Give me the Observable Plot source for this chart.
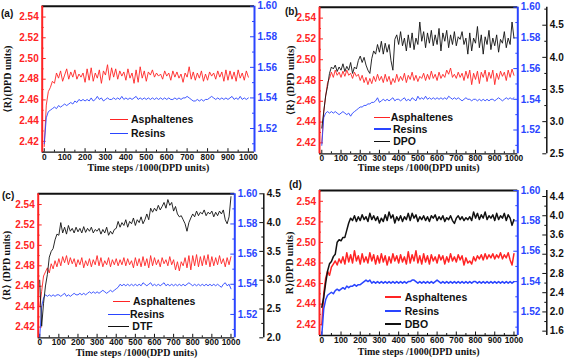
<!DOCTYPE html>
<html><head><meta charset="utf-8">
<script src="https://cdn.jsdelivr.net/npm/d3@7"></script>
<script src="https://cdn.jsdelivr.net/npm/@observablehq/plot@0.6"></script>
<style>
html,body{margin:0;padding:0;background:#fff;}
#page{position:relative;width:567px;height:363px;overflow:hidden;font-family:"Liberation Sans",Arial,sans-serif;}
#page svg{position:absolute;left:0;top:0;}
.lg{position:absolute;height:12px;font:bold 10.5px "Liberation Sans",Arial,sans-serif;display:flex;align-items:center;white-space:nowrap;line-height:1;color:#111;}
.lg span.sw{display:block;flex:none;}
.pl{position:absolute;font:bold 10px "Liberation Sans",Arial,sans-serif;color:#111;}
</style></head><body><div id="page"></div>
<script>
// time steps /1000
const steps = d3.range(0, 1001, 10);

// Panel (a)
const aAsph = [2.415,2.455,2.468,2.472,2.478,2.476,2.486,2.481,2.488,2.478,
2.484,2.490,2.480,2.487,2.482,2.489,2.480,2.485,2.482,2.486,
2.477,2.490,2.479,2.491,2.478,2.486,2.481,2.489,2.476,2.488,
2.484,2.494,2.479,2.491,2.482,2.490,2.480,2.488,2.483,2.487,
2.479,2.490,2.481,2.486,2.476,2.489,2.477,2.492,2.481,2.488,
2.478,2.487,2.484,2.489,2.482,2.486,2.483,2.485,2.480,2.488,
2.483,2.486,2.479,2.488,2.482,2.487,2.481,2.485,2.477,2.486,
2.482,2.492,2.480,2.487,2.479,2.486,2.481,2.488,2.478,2.485,
2.479,2.487,2.483,2.486,2.480,2.488,2.482,2.487,2.478,2.489,
2.479,2.488,2.480,2.487,2.478,2.489,2.481,2.486,2.479,2.488,
2.482];
const aRes = [1.510,1.527,1.531,1.532,1.533,1.534,1.533,1.535,1.534,1.535,
1.536,1.535,1.536,1.537,1.536,1.538,1.537,1.539,1.538,1.539,
1.538,1.539,1.538,1.540,1.538,1.539,1.541,1.539,1.540,1.538,
1.539,1.540,1.539,1.539,1.540,1.539,1.540,1.539,1.541,1.539,
1.540,1.539,1.540,1.539,1.540,1.541,1.539,1.540,1.539,1.540,
1.539,1.540,1.539,1.540,1.539,1.540,1.539,1.540,1.539,1.540,
1.539,1.540,1.539,1.539,1.540,1.539,1.540,1.539,1.540,1.540,
1.541,1.540,1.539,1.538,1.538,1.539,1.538,1.539,1.538,1.539,
1.539,1.540,1.541,1.540,1.539,1.540,1.539,1.540,1.539,1.540,
1.539,1.540,1.541,1.539,1.540,1.539,1.541,1.539,1.540,1.539,
1.540];

// Panel (b)
const bAsph = [2.420,2.450,2.465,2.478,2.482,2.488,2.483,2.490,2.485,2.488,
2.483,2.489,2.484,2.490,2.485,2.487,2.482,2.488,2.484,2.486,
2.480,2.485,2.478,2.483,2.476,2.482,2.477,2.484,2.479,2.486,
2.480,2.484,2.478,2.486,2.479,2.484,2.476,2.482,2.478,2.486,
2.479,2.484,2.480,2.487,2.478,2.485,2.481,2.488,2.480,2.485,
2.479,2.484,2.482,2.487,2.480,2.486,2.481,2.489,2.482,2.486,
2.480,2.488,2.482,2.486,2.483,2.490,2.486,2.492,2.483,2.486,
2.482,2.488,2.483,2.487,2.480,2.489,2.482,2.490,2.476,2.487,
2.481,2.489,2.477,2.488,2.483,2.490,2.479,2.488,2.482,2.490,
2.476,2.487,2.481,2.489,2.484,2.488,2.480,2.490,2.483,2.491,
2.485];
const bRes = [1.510,1.528,1.531,1.532,1.531,1.532,1.531,1.532,1.531,1.530,
1.531,1.532,1.531,1.530,1.531,1.529,1.531,1.532,1.533,1.534,
1.535,1.535,1.536,1.536,1.537,1.537,1.538,1.538,1.539,1.541,
1.538,1.539,1.540,1.539,1.540,1.539,1.540,1.541,1.539,1.540,
1.540,1.539,1.540,1.541,1.539,1.540,1.539,1.541,1.540,1.539,
1.542,1.540,1.541,1.540,1.542,1.540,1.541,1.540,1.541,1.540,
1.541,1.540,1.541,1.540,1.541,1.540,1.542,1.541,1.540,1.541,
1.540,1.541,1.540,1.539,1.540,1.541,1.540,1.540,1.539,1.540,
1.540,1.539,1.540,1.539,1.540,1.539,1.540,1.539,1.540,1.540,
1.539,1.540,1.541,1.540,1.539,1.540,1.541,1.540,1.541,1.540,
1.541];
const bDPO = [2.90,3.15,3.40,3.55,3.75,3.85,3.82,3.88,3.78,3.85,
3.80,3.90,3.78,3.86,3.80,3.92,3.75,3.85,3.82,3.95,
4.02,3.92,4.00,3.88,3.80,3.75,3.98,4.10,4.05,4.20,
4.08,4.25,4.05,4.22,4.08,4.20,3.95,3.80,4.28,4.35,
4.20,4.40,4.18,4.30,4.10,4.35,4.15,4.38,4.12,4.30,
4.20,4.55,4.25,4.40,4.15,4.38,4.22,4.42,4.18,4.35,
4.20,4.45,4.10,4.38,4.25,4.42,4.15,4.35,4.20,4.40,
4.18,4.32,4.28,4.40,4.20,4.30,4.05,4.38,4.10,4.30,
4.22,4.48,4.15,4.35,4.05,4.32,4.20,4.42,4.12,4.30,
4.18,4.35,4.08,4.28,4.22,4.40,4.15,4.30,4.20,4.55,
4.30];

// Panel (c)
const cAsph = [2.440,2.455,2.470,2.474,2.478,2.473,2.482,2.477,2.485,2.479,
2.487,2.480,2.489,2.483,2.490,2.481,2.488,2.482,2.487,2.479,
2.486,2.481,2.488,2.478,2.485,2.480,2.487,2.479,2.486,2.481,
2.490,2.480,2.488,2.479,2.485,2.481,2.488,2.479,2.486,2.481,
2.487,2.480,2.486,2.481,2.488,2.480,2.487,2.481,2.485,2.478,
2.488,2.480,2.487,2.479,2.489,2.480,2.487,2.478,2.490,2.480,
2.488,2.481,2.486,2.479,2.488,2.482,2.486,2.480,2.489,2.481,
2.486,2.476,2.484,2.475,2.484,2.480,2.488,2.478,2.490,2.476,
2.490,2.480,2.491,2.479,2.489,2.480,2.490,2.481,2.491,2.479,
2.489,2.480,2.488,2.481,2.490,2.482,2.487,2.479,2.488,2.481,
2.489];
const cRes = [1.505,1.525,1.531,1.533,1.532,1.533,1.532,1.533,1.532,1.533,
1.533,1.532,1.533,1.534,1.532,1.533,1.532,1.533,1.534,1.533,
1.533,1.534,1.533,1.534,1.533,1.534,1.535,1.534,1.535,1.534,
1.535,1.534,1.535,1.536,1.535,1.534,1.535,1.536,1.535,1.536,
1.537,1.538,1.540,1.539,1.540,1.539,1.540,1.539,1.540,1.539,
1.540,1.539,1.540,1.539,1.541,1.540,1.539,1.540,1.541,1.539,
1.540,1.539,1.540,1.539,1.540,1.541,1.539,1.540,1.539,1.540,
1.539,1.540,1.539,1.540,1.539,1.540,1.539,1.540,1.541,1.540,
1.539,1.540,1.539,1.540,1.539,1.540,1.539,1.540,1.539,1.540,
1.539,1.540,1.539,1.540,1.539,1.538,1.540,1.541,1.539,1.540,
1.537];
const cDTF = [3.00,2.20,2.60,2.90,3.10,3.40,3.50,3.55,3.70,3.80,
3.78,4.00,3.82,3.92,3.80,3.95,3.85,3.90,3.82,3.92,
3.84,3.90,3.82,3.93,3.83,3.90,3.85,3.92,3.82,3.88,
3.85,3.90,3.80,3.88,3.82,3.92,3.78,3.85,3.80,3.88,
3.90,4.02,3.92,4.00,3.95,4.05,3.92,4.02,3.98,4.08,
3.95,4.05,4.00,4.10,3.98,4.05,4.15,4.05,4.25,4.18,
4.25,4.20,4.30,4.22,4.28,4.35,4.25,4.40,4.30,4.35,
4.20,4.28,4.15,4.10,4.12,4.05,3.98,3.85,4.00,4.08,
4.15,4.10,4.20,4.12,4.18,4.15,4.22,4.12,4.18,4.15,
4.20,4.10,4.18,4.12,4.20,4.15,4.22,4.05,3.98,4.10,
4.45];

// Panel (d)
const dAsph = [2.420,2.450,2.465,2.472,2.468,2.476,2.479,2.482,2.478,2.484,
2.480,2.486,2.479,2.490,2.481,2.488,2.480,2.492,2.482,2.487,
2.479,2.489,2.481,2.486,2.480,2.490,2.482,2.488,2.479,2.487,
2.480,2.489,2.481,2.487,2.478,2.486,2.480,2.489,2.482,2.487,
2.480,2.488,2.481,2.486,2.479,2.491,2.480,2.488,2.482,2.492,
2.480,2.487,2.479,2.489,2.481,2.487,2.479,2.488,2.482,2.486,
2.480,2.488,2.483,2.487,2.479,2.486,2.481,2.489,2.482,2.486,
2.481,2.488,2.483,2.487,2.478,2.485,2.480,2.482,2.479,2.486,
2.482,2.487,2.484,2.488,2.483,2.489,2.484,2.488,2.485,2.489,
2.484,2.488,2.485,2.490,2.484,2.488,2.485,2.490,2.483,2.478,
2.489];
const dRes = [1.505,1.522,1.528,1.531,1.532,1.533,1.532,1.534,1.535,1.534,
1.535,1.536,1.535,1.537,1.536,1.537,1.537,1.538,1.537,1.538,
1.538,1.539,1.540,1.541,1.540,1.541,1.539,1.540,1.539,1.540,
1.539,1.540,1.539,1.540,1.539,1.540,1.539,1.540,1.539,1.540,
1.539,1.540,1.539,1.540,1.539,1.540,1.540,1.541,1.541,1.540,
1.539,1.540,1.539,1.540,1.539,1.540,1.539,1.540,1.539,1.540,
1.541,1.540,1.539,1.540,1.539,1.540,1.539,1.540,1.539,1.540,
1.539,1.540,1.539,1.540,1.539,1.540,1.539,1.540,1.539,1.540,
1.540,1.539,1.540,1.539,1.540,1.539,1.540,1.539,1.540,1.539,
1.540,1.539,1.540,1.539,1.540,1.539,1.540,1.539,1.540,1.539,
1.540];
const dDBO = [2.10,2.30,2.60,2.85,3.00,3.05,3.15,3.20,3.45,3.50,
3.48,3.55,3.55,3.70,3.85,3.95,3.90,4.00,3.88,3.98,
3.90,4.02,3.92,3.98,3.88,4.05,3.92,4.00,3.90,3.98,
3.85,3.95,3.88,4.02,3.90,4.08,3.95,4.02,3.85,3.98,
3.90,4.00,3.88,3.98,3.92,4.05,3.90,4.05,3.95,4.02,
3.88,3.98,3.92,4.00,3.90,3.98,3.88,4.00,3.95,4.02,
3.90,3.98,3.92,4.00,3.88,3.96,3.92,4.00,3.90,3.84,
3.95,4.00,3.92,3.98,3.90,3.96,3.92,3.98,3.90,4.08,
3.95,4.05,3.92,4.02,3.95,4.08,3.92,4.00,3.95,4.02,
3.90,4.05,3.92,4.00,3.95,4.05,3.90,4.02,3.95,3.80,
3.92];

// Ticks
const xTicks = [0,100,200,300,400,500,600,700,800,900,1000];
const xMinor = [50,150,250,350,450,550,650,750,850,950];
const redTicks = [2.42,2.44,2.46,2.48,2.50,2.52,2.54];
const redMinor = [2.41,2.43,2.45,2.47,2.49,2.51,2.53,2.55];
const blueTicks = [1.52,1.54,1.56,1.58,1.60];
const blueMinor = [1.51,1.53,1.55,1.57,1.59];
const bBlackTicks = [2.5,3.0,3.5,4.0,4.5];
const bBlackMinor = [2.75,3.25,3.75,4.25,4.75];
const cBlackTicks = [2.0,2.5,3.0,3.5,4.0,4.5];
const cBlackMinor = [2.25,2.75,3.25,3.75,4.25];
const dBlackTicks = [1.6,2.0,2.4,2.8,3.2,3.6,4.0,4.4];
const dBlackMinor = [1.8,2.2,2.6,3.0,3.4,3.8,4.2];

const xLabel = "Time steps /1000(DPD units)";
const RED = "#ff2424", BLUE = "#2a45ff", BLACK = "#111111";
const SANS = "Liberation Sans, Arial, sans-serif";
const SERIF = "Liberation Serif, DejaVu Serif, Times New Roman, serif";
const W = 567, H = 363;
const redDom = [2.4095, 2.5505];
const blueDom = [1.5045, 1.600];

const panels = [
  {frame:[41.7,254,5.7,151.7], xDom:[-10,1030], red:aAsph, blue:aRes, black:null,
   sw:0.9, ylab:"⟨R⟩(DPD units)", ylabDx:-34.5, xlabDy:18.5,
   letter:["(a)",1,7.5],
   legend:[{x:110,y:119.3,w:18,g:3,c:RED,t:"Asphaltenes"},{x:110,y:133.3,w:18,g:3,c:BLUE,t:"Resins"}]},
  {frame:[319,517.3,6.7,153.3], xDom:[-12,1020], red:bAsph, blue:bRes, black:bDPO,
   blackDom:[2.5,4.78], blackTicks:bBlackTicks, blackMinor:bBlackMinor, bfmt:".1f",
   sw:0.9, ylab:"⟨R⟩ (DPD units)", ylabDx:-29, xlabDy:17,
   letter:["(b)",285,5.5],
   legend:[{x:373.7,y:117.3,w:16.5,g:0.5,c:RED,t:"Asphaltenes"},{x:373.5,y:129,w:17,g:2.5,c:BLUE,t:"Resins"},{x:373.7,y:141.7,w:16.5,g:3,c:BLACK,t:"DPO"}]},
  {frame:[37.7,234.3,193.3,337.3], xDom:[-8,1020], red:cAsph, blue:cRes, black:cDTF,
   blackDom:[2.0,4.5], blackTicks:cBlackTicks, blackMinor:cBlackMinor, bfmt:".1f",
   sw:0.9, ylab:"⟨R⟩ (DPD units)", ylabDx:-31, xlabDy:18.5,
   letter:["(c)",2,189.5],
   legend:[{x:113,y:301.7,w:17,g:3,c:RED,t:"Asphaltenes"},{x:107.5,y:314.3,w:22,g:0.5,c:BLUE,t:"Resins"},{x:108.3,y:326.7,w:21,g:3,c:BLACK,t:"DTF"}]},
  {frame:[319,517.3,190,335], xDom:[-12,1020], red:dAsph, blue:dRes, black:dDBO,
   blackDom:[1.51,4.525], blackTicks:dBlackTicks, blackMinor:dBlackMinor, bfmt:".1f",
   sw:1.5, ylab:"R⟩(DPD units)", ylabDx:-29.5, xlabDy:19,
   letter:["(d)",289,178.5],
   legend:[{x:384.7,y:297.3,w:16.6,g:3.5,c:RED,t:"Asphaltenes"},{x:384.7,y:311,w:16.6,g:3.5,c:BLUE,t:"Resins"},{x:384.7,y:324,w:16.6,g:3.5,c:BLACK,t:"DBO"}]}
];

const page = document.getElementById("page");

function layer(p, yDom, marks) {
  const [L, R, T, B] = p.frame;
  return Plot.plot({
    width: W, height: H,
    marginLeft: L, marginRight: W - R, marginTop: T, marginBottom: H - B,
    x: {domain: p.xDom, axis: null},
    y: {domain: yDom, axis: null},
    style: {background: "transparent", overflow: "visible", fontFamily: SANS},
    marks
  });
}

for (const p of panels) {
  const [L, R, T, B] = p.frame;
  const fw = R - L, fh = B - T;
  // Red layer: left axis, x axis, frame lines
  const redLayer = layer(p, redDom, [
    Plot.line(p.red, {x: (d, i) => steps[i], y: d => d, stroke: RED, strokeWidth: p.sw}),
    Plot.tickY(redTicks, {y: d => d, stroke: RED, strokeWidth: 1, insetRight: fw - 4}),
    Plot.tickY(redMinor, {y: d => d, stroke: RED, strokeWidth: 1, insetRight: fw - 2}),
    Plot.tickX(xTicks, {x: d => d, stroke: BLACK, strokeWidth: 1, insetTop: fh - 3.5}),
    Plot.tickX(xMinor, {x: d => d, stroke: BLACK, strokeWidth: 1, insetTop: fh - 2}),
    Plot.ruleY([redDom[1]], {stroke: BLACK, strokeWidth: 2}),
    Plot.ruleY([redDom[0]], {stroke: BLACK, strokeWidth: 1.3}),
    Plot.ruleX([p.xDom[0]], {stroke: RED, strokeWidth: 2}),
    Plot.axisY({anchor: "left", ticks: redTicks, tickSize: 0, tickPadding: 3.5, tickFormat: ".2f",
      label: null, fill: RED, fontSize: 10, fontWeight: "bold", fontFamily: SANS}),
    Plot.axisX({anchor: "bottom", ticks: xTicks, tickSize: 0, tickPadding: 1.5, tickFormat: d => String(d),
      label: null, fill: BLACK, fontSize: 8.4, fontWeight: "bold", fontFamily: SANS}),
    Plot.text([xLabel], {text: d => d, frameAnchor: "bottom", textAnchor: "middle", dy: p.xlabDy, fill: BLACK,
      fontFamily: SERIF, fontWeight: "bold", fontSize: 10}),
    Plot.text([p.ylab], {text: d => d, frameAnchor: "left", textAnchor: "middle", rotate: -90, dx: p.ylabDx, fill: BLACK,
      fontFamily: SERIF, fontWeight: "bold", fontSize: 10})
  ]);
  page.appendChild(redLayer);

  // Blue layer: right axis
  const blueLayer = layer(p, blueDom, [
    Plot.line(p.blue, {x: (d, i) => steps[i], y: d => d, stroke: BLUE, strokeWidth: p.sw}),
    Plot.tickY(blueTicks, {y: d => d, stroke: BLUE, strokeWidth: 1, insetLeft: fw - 4}),
    Plot.tickY(blueMinor, {y: d => d, stroke: BLUE, strokeWidth: 1, insetLeft: fw - 2}),
    Plot.ruleX([p.xDom[1]], {stroke: BLUE, strokeWidth: 2}),
    Plot.axisY({anchor: "right", ticks: blueTicks, tickSize: 0, tickPadding: 3, tickFormat: ".2f",
      label: null, fill: BLUE, fontSize: 10, fontWeight: "bold", fontFamily: SANS})
  ]);
  page.appendChild(blueLayer);

  // Black layer: third axis
  if (p.black) {
    const blackLayer = layer(p, p.blackDom, [
      Plot.line(p.black, {x: (d, i) => steps[i], y: d => d, stroke: BLACK, strokeWidth: p.sw}),
      Plot.tickY(p.blackTicks, {y: d => d, stroke: BLACK, strokeWidth: 1, insetLeft: fw - 4, dx: 29}),
      Plot.tickY(p.blackMinor.filter(v => v <= p.blackDom[1]), {y: d => d, stroke: BLACK, strokeWidth: 1, insetLeft: fw - 2, dx: 29}),
      Plot.ruleX([p.xDom[1]], {stroke: BLACK, strokeWidth: 1.5, dx: 29}),
      Plot.axisY({anchor: "right", ticks: p.blackTicks, tickSize: 0, tickPadding: 3, dx: 29, tickFormat: p.bfmt,
        label: null, fill: BLACK, fontSize: 10, fontWeight: "bold", fontFamily: SANS})
    ]);
    page.appendChild(blackLayer);
  }

  // Legend
  for (const e of p.legend) {
    const div = document.createElement("div");
    div.className = "lg";
    div.style.left = e.x + "px";
    div.style.top = (e.y - 6) + "px";
    const sw = document.createElement("span");
    sw.className = "sw";
    sw.style.width = e.w + "px";
    sw.style.height = (p.sw > 1 ? 1.8 : 1.2) + "px";
    sw.style.background = e.c;
    sw.style.marginRight = e.g + "px";
    div.appendChild(sw);
    div.appendChild(document.createTextNode(e.t));
    page.appendChild(div);
  }
  // Panel letter
  const pl = document.createElement("div");
  pl.className = "pl";
  pl.textContent = p.letter[0];
  pl.style.left = p.letter[1] + "px";
  pl.style.top = p.letter[2] + "px";
  page.appendChild(pl);
}
</script></body></html>
